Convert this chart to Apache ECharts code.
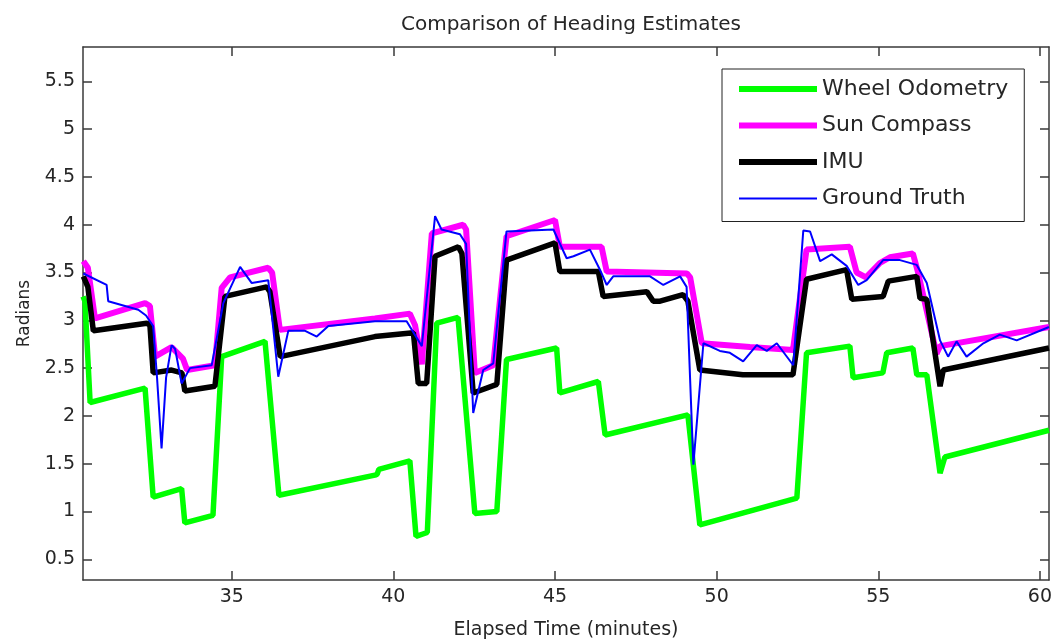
<!DOCTYPE html>
<html>
<head>
<meta charset="utf-8">
<title>Comparison of Heading Estimates</title>
<script src="https://cdn.jsdelivr.net/npm/echarts@6/dist/echarts.min.js"></script>
<style>
  html, body { margin: 0; padding: 0; background: #ffffff; }
  #chart { width: 1051px; height: 640px; }
</style>
</head>
<body>
<div id="chart"></div>
<script>
// Heading estimates (radians) against elapsed time (minutes)
const wheelTime = [30.40, 30.46, 30.62, 32.32, 32.57, 33.45, 33.55, 34.42, 34.69, 36.03, 36.46, 39.43, 39.50, 39.55, 40.51, 40.70, 41.05, 41.34, 42.00, 42.52, 43.20, 43.50, 45.05, 45.15, 46.34, 46.55, 49.11, 49.48, 52.48, 52.78, 54.12, 54.22, 55.14, 55.26, 56.07, 56.19, 56.50, 56.91, 57.06, 60.28];
const wheelRad  = [3.25, 3.20, 2.14, 2.29, 1.15, 1.24, 0.88, 0.96, 2.62, 2.78, 1.17, 1.38, 1.39, 1.44, 1.53, 0.74, 0.78, 2.97, 3.03, 0.98, 1.00, 2.59, 2.71, 2.24, 2.36, 1.80, 2.01, 0.86, 1.14, 2.66, 2.73, 2.40, 2.45, 2.66, 2.71, 2.43, 2.43, 1.40, 1.57, 1.85];

const sunTime = [30.41, 30.55, 30.77, 32.32, 32.47, 32.63, 33.14, 33.49, 33.62, 34.48, 34.69, 34.95, 36.13, 36.25, 36.49, 39.43, 40.51, 40.67, 40.88, 41.19, 42.16, 42.25, 42.52, 43.09, 43.50, 45.00, 45.15, 46.44, 46.60, 49.08, 49.18, 49.54, 51.03, 52.36, 52.78, 54.12, 54.33, 54.62, 55.05, 55.36, 56.07, 56.23, 56.80, 56.91, 60.28];
const sunRad  = [3.62, 3.55, 3.02, 3.18, 3.15, 2.62, 2.72, 2.60, 2.48, 2.53, 3.34, 3.45, 3.55, 3.50, 2.90, 3.02, 3.07, 2.95, 2.54, 3.91, 4.00, 3.95, 2.45, 2.53, 3.88, 4.05, 3.77, 3.77, 3.51, 3.49, 3.45, 2.76, 2.72, 2.69, 3.74, 3.77, 3.50, 3.45, 3.60, 3.66, 3.70, 3.50, 2.65, 2.73, 2.93];

const imuTime = [30.41, 30.55, 30.72, 32.37, 32.47, 32.57, 33.14, 33.46, 33.55, 34.48, 34.79, 36.08, 36.18, 36.50, 39.43, 40.62, 40.77, 41.03, 41.29, 42.01, 42.12, 42.47, 43.20, 43.50, 45.00, 45.15, 46.34, 46.49, 47.84, 48.04, 48.25, 48.96, 49.11, 49.48, 50.81, 52.36, 52.78, 54.02, 54.18, 55.15, 55.31, 56.19, 56.29, 56.50, 56.91, 57.01, 60.28];
const imuRad  = [3.46, 3.35, 2.89, 2.97, 2.95, 2.45, 2.48, 2.45, 2.26, 2.31, 3.25, 3.35, 3.30, 2.62, 2.83, 2.87, 2.34, 2.34, 3.67, 3.77, 3.70, 2.24, 2.33, 3.63, 3.81, 3.51, 3.51, 3.25, 3.30, 3.20, 3.20, 3.27, 3.20, 2.48, 2.43, 2.43, 3.43, 3.53, 3.22, 3.25, 3.41, 3.46, 3.23, 3.22, 2.31, 2.48, 2.71];

const truthTime = [30.41, 31.13, 31.18, 32.11, 32.35, 32.57, 32.69, 32.83, 32.97, 33.14, 33.25, 33.45, 33.71, 34.38, 34.74, 35.26, 35.62, 36.13, 36.44, 36.75, 37.27, 37.63, 37.99, 39.43, 40.41, 40.88, 41.29, 41.49, 42.06, 42.25, 42.47, 42.78, 43.09, 43.50, 44.95, 45.36, 45.57, 46.08, 46.39, 46.60, 46.80, 47.94, 48.35, 48.87, 49.07, 49.28, 49.59, 50.10, 50.41, 50.82, 51.24, 51.55, 51.86, 52.37, 52.68, 52.89, 53.20, 53.56, 54.02, 54.38, 54.64, 55.15, 55.67, 56.19, 56.50, 56.91, 57.16, 57.42, 57.73, 58.25, 58.76, 59.28, 60.28];
const truthRad  = [3.49, 3.37, 3.20, 3.11, 3.05, 2.94, 2.40, 1.66, 2.40, 2.74, 2.70, 2.34, 2.50, 2.53, 3.18, 3.56, 3.39, 3.42, 2.41, 2.89, 2.89, 2.83, 2.94, 2.99, 2.99, 2.73, 4.09, 3.95, 3.90, 3.80, 2.03, 2.48, 2.55, 3.93, 3.95, 3.65, 3.67, 3.74, 3.53, 3.37, 3.46, 3.46, 3.37, 3.46, 3.35, 1.49, 2.76, 2.68, 2.66, 2.57, 2.74, 2.68, 2.76, 2.53, 3.94, 3.93, 3.62, 3.69, 3.57, 3.37, 3.42, 3.63, 3.63, 3.58, 3.39, 2.79, 2.62, 2.78, 2.62, 2.76, 2.85, 2.79, 2.93];

const xTicks = [35, 40, 45, 50, 55, 60];
const yTicks = [0.5, 1, 1.5, 2, 2.5, 3, 3.5, 4, 4.5, 5, 5.5];
const xRange = [30.40, 60.28];
const yRange = [0.283, 5.86];

const zip = (t, v) => t.map((x, i) => [x, v[i]]);

const FONT = 'DejaVu Sans';
const INK = '#262626';
const FRAME = { color: '#3a3a3a', width: 1.5 };

function frameAxis(pos, range, ticks, labelled, extra) {
  return Object.assign({
    type: 'value',
    position: pos,
    min: range[0],
    max: range[1],
    axisLine: { show: true, onZero: false, lineStyle: FRAME },
    axisTick: { show: true, inside: true, length: 9, customValues: ticks, lineStyle: FRAME },
    axisLabel: labelled
      ? { show: true, customValues: ticks, fontFamily: FONT, fontSize: 19, color: INK }
      : { show: false },
    splitLine: { show: false }
  }, extra || {});
}

const chart = echarts.init(document.getElementById('chart'), null, { renderer: 'canvas' });

chart.setOption({
  animation: false,
  backgroundColor: '#ffffff',
  title: {
    text: 'Comparison of Heading Estimates',
    left: 566,
    textAlign: 'center',
    top: 10,
    textStyle: { fontFamily: FONT, fontSize: 20, fontWeight: 'normal', color: INK }
  },
  grid: { left: 83, right: 2, top: 47, bottom: 60, containLabel: false, outerBoundsMode: 'none' },
  legend: {
    orient: 'vertical',
    left: 722,
    top: 69,
    padding: [9, 16, 12, 14],
    itemWidth: 78,
    itemHeight: 14,
    itemGap: 14.5,
    backgroundColor: '#ffffff',
    borderColor: '#222222',
    borderWidth: 1,
    selectedMode: false,
    textStyle: { fontFamily: FONT, fontSize: 22, color: INK },
    data: [
      { name: 'Wheel Odometry', lineStyle: { width: 6 }, itemStyle: { opacity: 0 } },
      { name: 'Sun Compass', lineStyle: { width: 6 }, itemStyle: { opacity: 0 } },
      { name: 'IMU', lineStyle: { width: 6 }, itemStyle: { opacity: 0 } },
      { name: 'Ground Truth', lineStyle: { width: 2 }, itemStyle: { opacity: 0 } }
    ]
  },
  xAxis: [
    frameAxis('bottom', xRange, xTicks, true, {
      name: 'Elapsed Time (minutes)',
      nameLocation: 'middle',
      nameGap: 41,
      nameTextStyle: { fontFamily: FONT, fontSize: 19, color: INK }
    }),
    frameAxis('top', xRange, xTicks, false)
  ],
  yAxis: [
    frameAxis('left', yRange, yTicks, true, {
      name: 'Radians',
      nameLocation: 'middle',
      nameGap: 50,
      nameRotate: 90,
      nameTextStyle: { fontFamily: FONT, fontSize: 17, color: INK }
    }),
    frameAxis('right', yRange, yTicks, false)
  ],
  series: [
    { name: 'Wheel Odometry', type: 'line', data: zip(wheelTime, wheelRad), symbol: 'none', color: '#00ff00', lineStyle: { color: '#00ff00', width: 5.5 }, z: 2 },
    { name: 'Sun Compass', type: 'line', data: zip(sunTime, sunRad), symbol: 'none', color: '#ff00ff', lineStyle: { color: '#ff00ff', width: 6 }, z: 3 },
    { name: 'IMU', type: 'line', data: zip(imuTime, imuRad), symbol: 'none', color: '#000000', lineStyle: { color: '#000000', width: 5.5 }, z: 4 },
    { name: 'Ground Truth', type: 'line', data: zip(truthTime, truthRad), symbol: 'none', color: '#0000ff', lineStyle: { color: '#0000ff', width: 2 }, z: 5 }
  ]
});
</script>
</body>
</html>
